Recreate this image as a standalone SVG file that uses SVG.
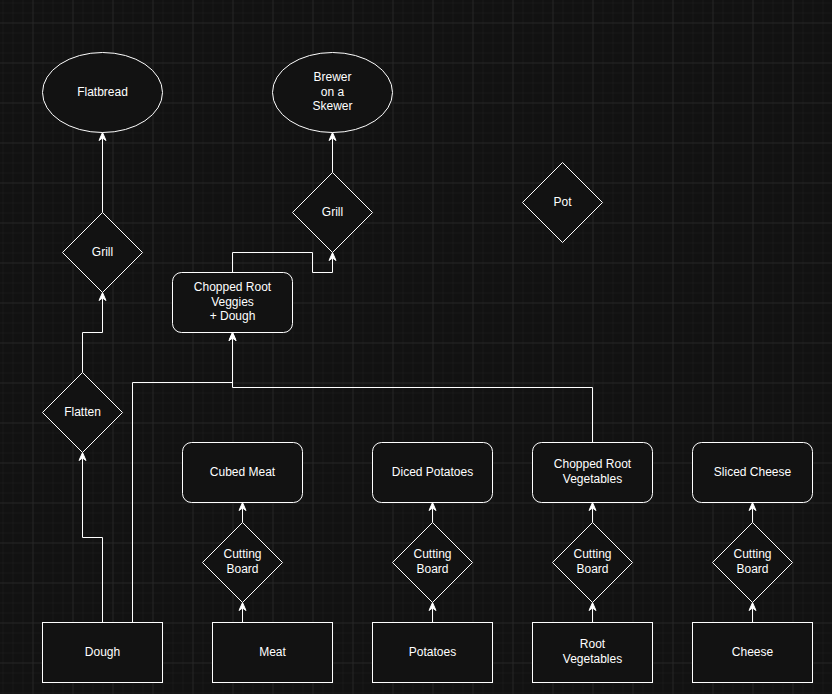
<svg xmlns="http://www.w3.org/2000/svg" width="832" height="694" viewBox="0 0 832 694">
  <defs>
    <pattern id="minor" x="2.5" y="2.5" width="10" height="10" patternUnits="userSpaceOnUse">
      <path d="M0,0 H10 M0,0 V10" stroke="#202020" stroke-width="1" fill="none"/>
    </pattern>
    <pattern id="major" x="32.5" y="22.5" width="40" height="40" patternUnits="userSpaceOnUse">
      <path d="M0,0 H40 M0,0 V40" stroke="#303030" stroke-width="1" fill="none"/>
    </pattern>
    <marker id="arrow" markerUnits="userSpaceOnUse" markerWidth="12" markerHeight="12" viewBox="-10 -6 12 12" refX="0" refY="0" orient="auto">
      <path d="M0,0 L-8,-3.5 L-5.5,0 L-8,3.5 Z" fill="#ffffff" stroke="#ffffff" stroke-width="1" stroke-linejoin="miter"/>
    </marker>
    <style>
      .node { fill: #121212; stroke: #ffffff; stroke-width: 1; }
      .edge { fill: none; stroke: #ffffff; stroke-width: 1; marker-end: url(#arrow); }
      .label { font-family: "Liberation Sans", Arial, Helvetica, sans-serif; font-size: 12px; fill: #ffffff; text-anchor: middle; }
    </style>
  </defs>

  <rect x="0" y="0" width="832" height="694" fill="#121212"/>
  <rect x="0" y="0" width="832" height="694" fill="url(#minor)"/>
  <rect x="0" y="0" width="832" height="694" fill="url(#major)"/>

  <g transform="translate(0.5,0.5)">
    <g id="connectors">
      <path class="edge" d="M102,622 V537 H82 V452"/>
      <path class="edge" d="M82,372 V332 H102 V292"/>
      <path class="edge" d="M102,212 V132"/>
      <path class="edge" d="M132,622 V382 H232 V332"/>
      <path class="edge" d="M592,442 V387 H232 V332"/>
      <path class="edge" d="M232,272 V252 H312 V272 H332 V252"/>
      <path class="edge" d="M332,172 V132"/>
      <path class="edge" d="M242,622 V602"/>
      <path class="edge" d="M242,522 V502"/>
      <path class="edge" d="M432,622 V602"/>
      <path class="edge" d="M432,522 V502"/>
      <path class="edge" d="M592,622 V602"/>
      <path class="edge" d="M592,522 V502"/>
      <path class="edge" d="M752,622 V602"/>
      <path class="edge" d="M752,522 V502"/>
    </g>

    <g id="flatbread">
      <ellipse class="node" cx="102" cy="92" rx="60" ry="40"/>
      <text class="label" x="102" y="95">Flatbread</text>
    </g>
    <g id="brewer">
      <ellipse class="node" cx="332" cy="92" rx="60" ry="40"/>
      <text class="label" x="332" y="80.6">Brewer</text>
      <text class="label" x="332" y="95">on a</text>
      <text class="label" x="332" y="109.4">Skewer</text>
    </g>
    <g id="grill1">
      <path class="node" d="M102,212 L142,252 L102,292 L62,252 Z"/>
      <text class="label" x="102" y="255">Grill</text>
    </g>
    <g id="grill2">
      <path class="node" d="M332,172 L372,212 L332,252 L292,212 Z"/>
      <text class="label" x="332" y="215">Grill</text>
    </g>
    <g id="pot">
      <path class="node" d="M562,162 L602,202 L562,242 L522,202 Z"/>
      <text class="label" x="562" y="205">Pot</text>
    </g>
    <g id="combo">
      <rect class="node" x="172" y="272" width="120" height="60" rx="9" ry="9"/>
      <text class="label" x="232" y="290.6">Chopped Root</text>
      <text class="label" x="232" y="305">Veggies</text>
      <text class="label" x="232" y="319.4">+ Dough</text>
    </g>
    <g id="flatten">
      <path class="node" d="M82,372 L122,412 L82,452 L42,412 Z"/>
      <text class="label" x="82" y="415">Flatten</text>
    </g>

    <g id="cubed-meat">
      <rect class="node" x="182" y="442" width="120" height="60" rx="9" ry="9"/>
      <text class="label" x="242" y="475">Cubed Meat</text>
    </g>
    <g id="diced-potatoes">
      <rect class="node" x="372" y="442" width="120" height="60" rx="9" ry="9"/>
      <text class="label" x="432" y="475">Diced Potatoes</text>
    </g>
    <g id="chopped-root-vegetables">
      <rect class="node" x="532" y="442" width="120" height="60" rx="9" ry="9"/>
      <text class="label" x="592" y="467.8">Chopped Root</text>
      <text class="label" x="592" y="482.2">Vegetables</text>
    </g>
    <g id="sliced-cheese">
      <rect class="node" x="692" y="442" width="120" height="60" rx="9" ry="9"/>
      <text class="label" x="752" y="475">Sliced Cheese</text>
    </g>

    <g id="cb-meat">
      <path class="node" d="M242,522 L282,562 L242,602 L202,562 Z"/>
      <text class="label" x="242" y="557.8">Cutting</text>
      <text class="label" x="242" y="572.2">Board</text>
    </g>
    <g id="cb-potatoes">
      <path class="node" d="M432,522 L472,562 L432,602 L392,562 Z"/>
      <text class="label" x="432" y="557.8">Cutting</text>
      <text class="label" x="432" y="572.2">Board</text>
    </g>
    <g id="cb-root">
      <path class="node" d="M592,522 L632,562 L592,602 L552,562 Z"/>
      <text class="label" x="592" y="557.8">Cutting</text>
      <text class="label" x="592" y="572.2">Board</text>
    </g>
    <g id="cb-cheese">
      <path class="node" d="M752,522 L792,562 L752,602 L712,562 Z"/>
      <text class="label" x="752" y="557.8">Cutting</text>
      <text class="label" x="752" y="572.2">Board</text>
    </g>

    <g id="dough">
      <rect class="node" x="42" y="622" width="120" height="60"/>
      <text class="label" x="102" y="655">Dough</text>
    </g>
    <g id="meat">
      <rect class="node" x="212" y="622" width="120" height="60"/>
      <text class="label" x="272" y="655">Meat</text>
    </g>
    <g id="potatoes">
      <rect class="node" x="372" y="622" width="120" height="60"/>
      <text class="label" x="432" y="655">Potatoes</text>
    </g>
    <g id="root-vegetables">
      <rect class="node" x="532" y="622" width="120" height="60"/>
      <text class="label" x="592" y="647.8">Root</text>
      <text class="label" x="592" y="662.2">Vegetables</text>
    </g>
    <g id="cheese">
      <rect class="node" x="692" y="622" width="120" height="60"/>
      <text class="label" x="752" y="655">Cheese</text>
    </g>
  </g>
</svg>
